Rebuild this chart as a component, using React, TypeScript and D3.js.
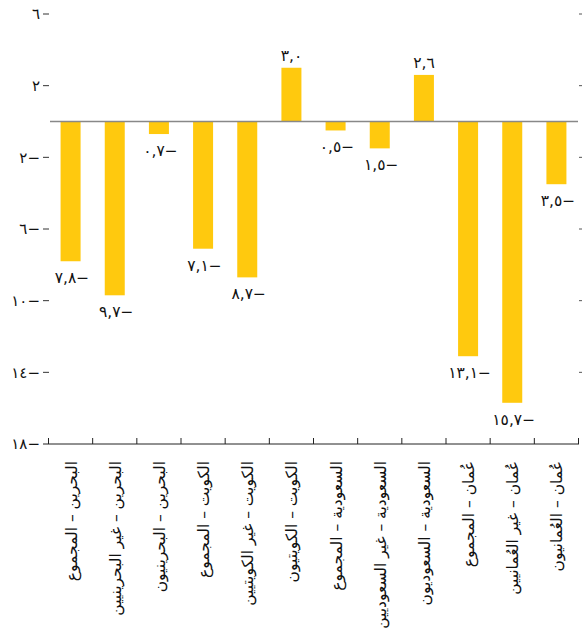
import React from "react";
import * as d3 from "d3";

// Categories (country – population group)
const categories: string[] = [
  "البحرين – المجموع",
  "البحرين – غير البحرينيين",
  "البحرين – البحرينيون",
  "الكويت – المجموع",
  "الكويت – غير الكويتيين",
  "الكويت – الكويتيون",
  "السعودية – المجموع",
  "السعودية – غير السعوديين",
  "السعودية – السعوديون",
  "عُمان – المجموع",
  "عُمان – غير العُمانيين",
  "عُمان – العُمانيون",
];

// Change values per category
const values: number[] = [-7.8, -9.7, -0.7, -7.1, -8.7, 3.0, -0.5, -1.5, 2.6, -13.1, -15.7, -3.5];

// Y axis ticks
const yTicks: number[] = [6, 2, -2, -6, -10, -14, -18];

const WIDTH = 582;
const HEIGHT = 637;
const FONT = "'DejaVu Sans', sans-serif";
const BAR_COLOR = "#FFC90E";

const arabicDigits = "٠١٢٣٤٥٦٧٨٩";
const toArabic = (s: string) => s.replace(/[0-9]/g, (d) => arabicDigits[+d]);

// Format a number with Arabic-Indic digits; the minus goes in front logically,
// and a right-to-left mark makes it display on the right.
const fmtValue = (v: number) => {
  const body = toArabic(Math.abs(v).toFixed(1)).replace(".", ",");
  return v < 0 ? "\u200F\u2212" + body : body;
};
const fmtTick = (v: number) => {
  const body = toArabic(String(Math.abs(v)));
  return v < 0 ? "\u200F\u2212" + body : body;
};

export default function App() {
  const y = d3.scaleLinear().domain([-18, 6]).range([444, 14]);
  const x = d3
    .scaleBand<string>()
    .domain(categories)
    .range([48.5, 578.5])
    .paddingInner(0)
    .paddingOuter(0);
  const bw = x.bandwidth();
  const barW = 20;
  const y0 = y(0);
  const axisY = y(-18);

  return (
    <svg
      width={WIDTH}
      height={HEIGHT}
      style={{ position: "absolute", left: 0, top: 0, background: "#fff" }}
      fontFamily={FONT}
    >
      {/* bars */}
      {values.map((v, i) => {
        const cx = (x(categories[i]) as number) + bw / 2;
        return (
          <rect
            key={"b" + i}
            x={cx - barW / 2}
            y={Math.min(y(v), y0)}
            width={barW}
            height={Math.abs(y(v) - y0)}
            fill={BAR_COLOR}
          />
        );
      })}

      {/* zero line */}
      <line x1={50} x2={578} y1={y0} y2={y0} stroke="#888" strokeWidth={1.4} />

      {/* left ticks and labels */}
      {yTicks.map((t) => (
        <g key={"t" + t}>
          {t !== -18 && (
            <line x1={43} x2={49} y1={y(t)} y2={y(t)} stroke="#333" strokeWidth={1} />
          )}
          <text
            x={40}
            y={y(t)}
            dy="0.35em"
            textAnchor="end"
            fontSize={15}
            fill="#111"
          >
            {fmtTick(t)}
          </text>
        </g>
      ))}

      {/* right ticks */}
      {yTicks
        .filter((t) => t !== -18)
        .map((t) => (
          <line key={"r" + t} x1={579} x2={582} y1={y(t)} y2={y(t)} stroke="#555" strokeWidth={1} />
        ))}

      {/* bottom axis */}
      <line x1={43} x2={579} y1={axisY} y2={axisY} stroke="#222" strokeWidth={1} />
      {categories.concat(["__end"]).map((c, i) => {
        const bx = i < categories.length ? (x(c) as number) : 578.5;
        return (
          <line key={"bt" + i} x1={bx} x2={bx} y1={axisY} y2={axisY - 6} stroke="#222" strokeWidth={1} />
        );
      })}

      {/* value labels */}
      {values.map((v, i) => {
        const cx = (x(categories[i]) as number) + bw / 2;
        const ly = v < 0 ? y(v) + 22 : y(v) - 7;
        return (
          <text key={"v" + i} x={cx + (v < 0 ? 1.5 : 0)} y={ly} textAnchor="middle" fontSize={15.5} fill="#111">
            {fmtValue(v)}
          </text>
        );
      })}

      {/* category labels, rotated */}
      {categories.map((c, i) => {
        const cx = (x(c) as number) + bw / 2 + 6;
        const ty = axisY + 17;
        return (
          <text
            key={"c" + i}
            transform={`translate(${cx},${ty}) rotate(-90)`}
            textAnchor="end"
            fontSize={15.5}
            fill="#111"
          >
            {c}
          </text>
        );
      })}
    </svg>
  );
}
